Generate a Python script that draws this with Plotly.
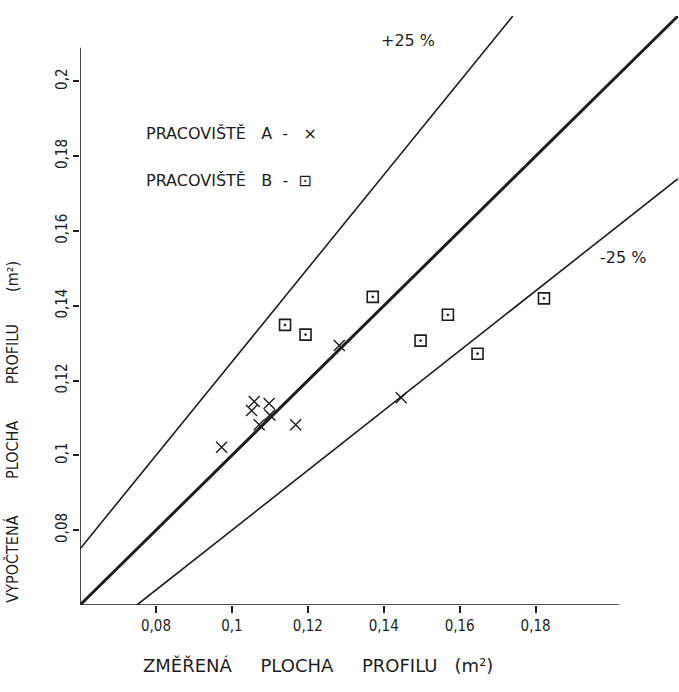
import plotly.graph_objects as go

# ---- data ----
a_x = [0.0973, 0.1059, 0.1052, 0.1098, 0.1100, 0.1072, 0.1168, 0.1283, 0.1446]
a_y = [0.1022, 0.1144, 0.1120, 0.1139, 0.1108, 0.1082, 0.1082, 0.1294, 0.1154]
b_x = [0.1140, 0.1194, 0.1371, 0.1497, 0.1569, 0.1647, 0.1822]
b_y = [0.1349, 0.1323, 0.1424, 0.1307, 0.1376, 0.1272, 0.1420]

ratio_names = ["+25 %", "1:1", "-25 %"]
ratio_factors = [1.25, 1.0, 0.8]
ratio_widths = [1.6, 3.0, 1.6]

x_ticks = [0.08, 0.10, 0.12, 0.14, 0.16, 0.18]
x_ticktext = ["0,08", "0,1", "0,12", "0,14", "0,16", "0,18"]
y_ticks = [0.08, 0.10, 0.12, 0.14, 0.16, 0.18, 0.20]
y_ticktext = ["0,08", "0,1", "0,12", "0,14", "0,16", "0,18", "0,2"]

NB = "\u00a0"
legend_a = "PRACOVIŠTĚ" + NB * 3 + "A" + NB * 2 + "-" + NB * 3 + "×"
legend_b = "PRACOVIŠTĚ" + NB * 3 + "B" + NB * 2 + "-" + NB * 2 + "⊡"
x_title = ("ZMĚŘENÁ" + NB * 5 + "PLOCHA" + NB * 5 + "PROFILU" + NB * 3 + "(m²)")
y_title = ("VYPOČTENÁ" + NB * 8 + "PLOCHA" + NB * 8 + "PROFILU" + NB * 7 + "(m²)")

XMIN, XMAX = 0.06, 0.2175
YMIN, YMAX = 0.06, 0.2175
X_AXIS_END = 0.202
Y_AXIS_END = 0.209

INK = "#1e1e1e"
FONT_C = "DejaVu Sans Condensed"
FONT_W = "DejaVu Sans"

fig = go.Figure()

# reference lines (ratio computed / measured)
for name, k, w in zip(ratio_names, ratio_factors, ratio_widths):
    x0 = max(XMIN, YMIN / k)
    x1 = min(XMAX, YMAX / k)
    fig.add_trace(go.Scatter(x=[x0, x1], y=[k * x0, k * x1], mode="lines",
                             line=dict(color=INK, width=w), name=name,
                             hoverinfo="skip", showlegend=False))

fig.add_trace(go.Scatter(x=a_x, y=a_y, mode="markers", name="PRACOVIŠTĚ A",
                         marker=dict(symbol="x-thin-open", size=11, color=INK,
                                     line=dict(color=INK, width=1.4)),
                         showlegend=False))
fig.add_trace(go.Scatter(x=b_x, y=b_y, mode="markers", name="PRACOVIŠTĚ B",
                         marker=dict(symbol="square-open-dot", size=11, color=INK,
                                     line=dict(color=INK, width=1.6)),
                         showlegend=False))

# axis lines (drawn shorter than the plotting box, like the original)
fig.add_shape(type="line", x0=XMIN, x1=X_AXIS_END, y0=YMIN, y1=YMIN,
              xref="x", yref="y", line=dict(color=INK, width=1.6))
fig.add_shape(type="line", x0=XMIN, x1=XMIN, y0=YMIN, y1=Y_AXIS_END,
              xref="x", yref="y", line=dict(color=INK, width=1.6))

ann_font = dict(family=FONT_W, size=16, color=INK)
legend_font = dict(family=FONT_W, size=16, color=INK)
fig.add_annotation(x=0.0768, y=0.1862, xref="x", yref="y", text=legend_a,
                   showarrow=False, xanchor="left", font=legend_font)
fig.add_annotation(x=0.0768, y=0.1736, xref="x", yref="y", text=legend_b,
                   showarrow=False, xanchor="left", font=legend_font)
fig.add_annotation(x=0.1463, y=0.2110, xref="x", yref="y", text="+25 %",
                   showarrow=False, font=ann_font)
fig.add_annotation(x=0.2029, y=0.1530, xref="x", yref="y", text="-25 %",
                   showarrow=False, font=ann_font)

# axis titles
fig.add_annotation(x=0.398, y=-0.102, xref="paper", yref="paper", text=x_title,
                   showarrow=False, font=dict(family=FONT_W, size=18, color=INK),
                   yanchor="middle", xanchor="center")
fig.add_annotation(x=-0.113, y=0.295, xref="paper", yref="paper", text=y_title,
                   textangle=-90, showarrow=False,
                   font=dict(family=FONT_C, size=16, color=INK),
                   xanchor="center", yanchor="middle")

axis_common = dict(showgrid=False, zeroline=False, showline=False, automargin=False,
                   ticks="outside", tickcolor=INK, tickwidth=1.5,
                   tickfont=dict(family=FONT_C, size=15, color=INK))

fig.update_xaxes(range=[XMIN, XMAX], tickvals=x_ticks, ticktext=x_ticktext,
                 ticklen=7, **axis_common)
fig.update_yaxes(range=[YMIN, YMAX], tickvals=y_ticks, ticktext=y_ticktext,
                 ticklen=6, tickangle=-90, **axis_common)

fig.update_layout(width=679, height=692, paper_bgcolor="white", plot_bgcolor="white",
                  margin=dict(l=80, r=1, t=16, b=87), showlegend=False)

# remove the default page margin so the figure fills the window exactly
fig.write_html("out.html", config={"displayModeBar": False},
               post_script="document.body.style.margin='0';")
